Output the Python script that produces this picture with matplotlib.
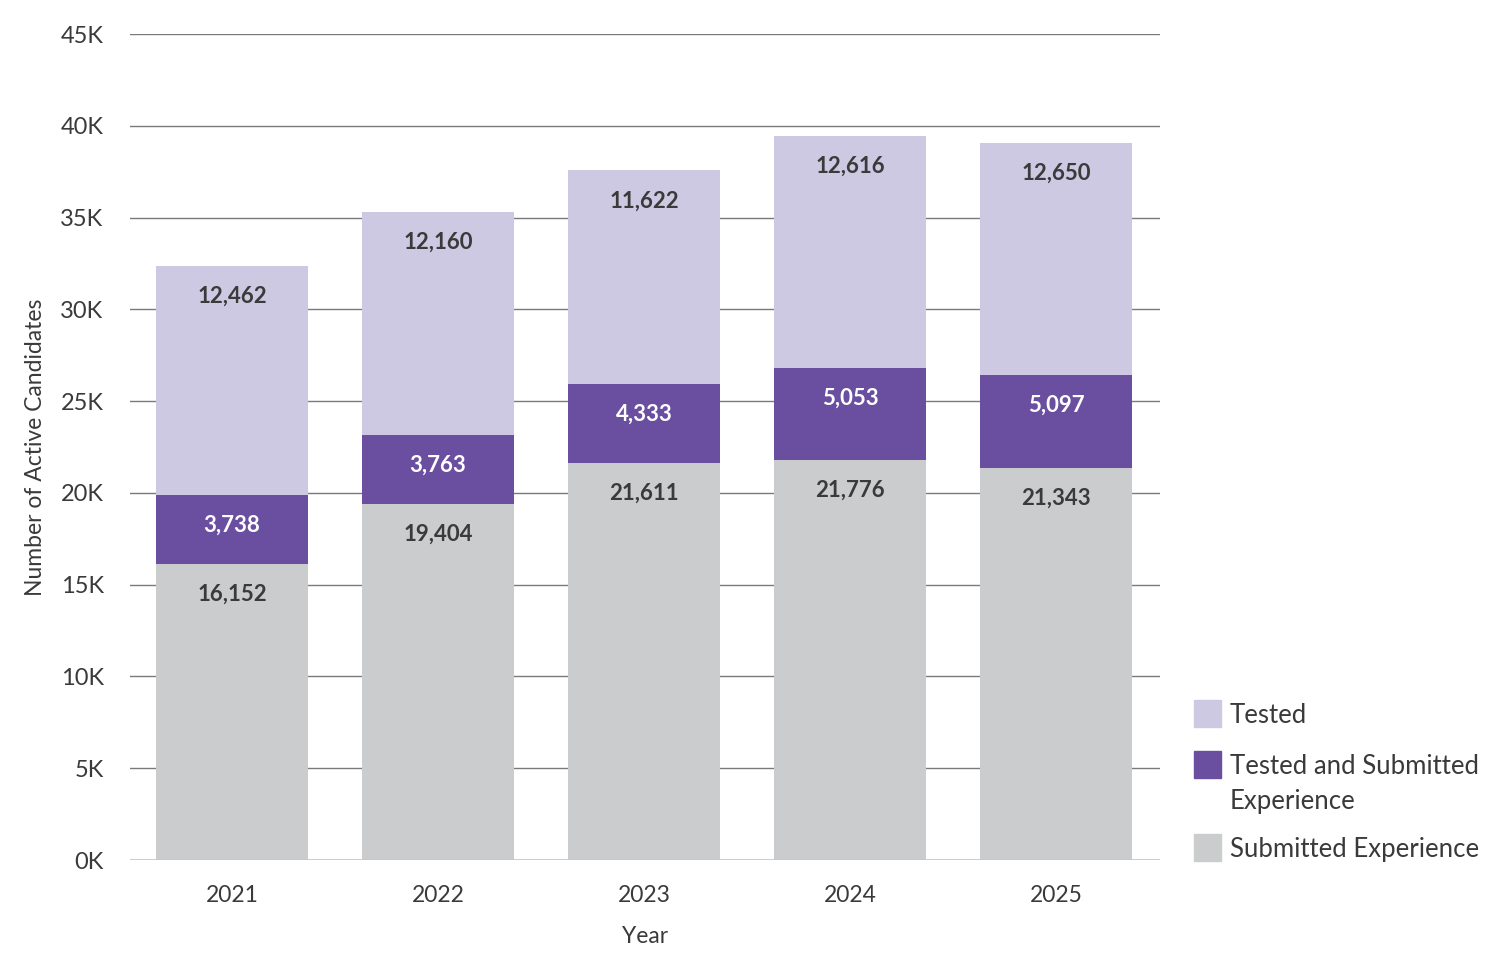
import matplotlib.pyplot as plt
from matplotlib.patches import Rectangle

years = ["2021", "2022", "2023", "2024", "2025"]
submitted = [16152, 19404, 21611, 21776, 21343]
both = [3738, 3763, 4333, 5053, 5097]
tested = [12462, 12160, 11622, 12616, 12650]
yticks = [0, 5000, 10000, 15000, 20000, 25000, 30000, 35000, 40000, 45000]
ytick_labels = ["0K", "5K", "10K", "15K", "20K", "25K", "30K", "35K", "40K", "45K"]
legend_labels = ["Tested", "Tested and Submitted\nExperience", "Submitted Experience"]

c_tested = "#CEC9E3"
c_both = "#6A4FA0"
c_sub = "#CBCCCE"
txt = "#3a3a3a"

plt.rcParams['font.family'] = ['Lato', 'DejaVu Sans']

fig = plt.figure(figsize=(15, 9.72), dpi=100)
ax = fig.add_axes([0.0867, 0.1152, 0.6867, 0.8498])

x = list(range(len(years)))
w = 0.74
mid = [s + b for s, b in zip(submitted, both)]
ax.bar(x, submitted, w, color=c_sub, zorder=2)
ax.bar(x, both, w, bottom=submitted, color=c_both, zorder=2)
ax.bar(x, tested, w, bottom=mid, color=c_tested, zorder=2)

# labels sit a fixed distance below each segment's top
off = 1650
for i in x:
    ax.text(i, submitted[i] - off, f"{submitted[i]:,}", ha="center", va="center",
            fontsize=16, fontweight="bold", color=txt, zorder=3)
    ax.text(i, mid[i] - off, f"{both[i]:,}", ha="center", va="center",
            fontsize=16, fontweight="bold", color="white", zorder=3)
    ax.text(i, mid[i] + tested[i] - off, f"{tested[i]:,}", ha="center", va="center",
            fontsize=16, fontweight="bold", color=txt, zorder=3)

ax.set_xlim(-0.495, 4.505)
ax.set_ylim(0, 45000)
ax.set_yticks(yticks)
ax.set_yticklabels(ytick_labels)
ax.set_xticks(x)
ax.set_xticklabels(years)
ax.tick_params(axis="y", length=0, pad=19, labelsize=17, labelcolor=txt)
ax.tick_params(axis="x", length=0, pad=18, labelsize=16.5, labelcolor=txt)
for g in yticks[1:]:
    ax.axhline(g, color="#7a7a7a", lw=1, zorder=1)
ax.axhline(0, color="#c8c8c8", lw=2, zorder=3)
for s in ax.spines.values():
    s.set_visible(False)

ax.text(0.5, -0.092, "Year", transform=ax.transAxes, ha="center", va="center",
        fontsize=16.5, color=txt)
ax.text(-0.092, 0.5, "Number of Active Candidates", transform=ax.transAxes,
        ha="center", va="center", rotation=90, fontsize=16.5, color=txt)

# legend drawn by hand so the two-line entry lines up like the original
leg_colors = [c_tested, c_both, c_sub]
leg_top = [700, 751, 834]
for lab, col, py in zip(legend_labels, leg_colors, leg_top):
    fig.patches.append(Rectangle((1194 / 1500, 1 - (py + 27) / 972), 27 / 1500, 27 / 972,
                                 transform=fig.transFigure, color=col))
    fig.text(1230 / 1500, 1 - (py + 3) / 972, lab, ha="left", va="top",
             fontsize=18.5, color=txt, linespacing=1.5)

fig.savefig("out.png", dpi=100, facecolor="white")
